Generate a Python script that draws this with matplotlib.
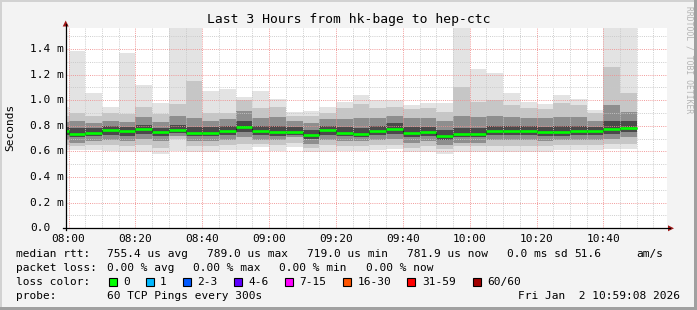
import numpy as np
import matplotlib.pyplot as plt
from matplotlib.ticker import MultipleLocator
from matplotlib.patches import Rectangle, Polygon
import matplotlib.transforms as mtransforms

# --- data (rtt in ms, one column per 5 minute round, minutes from 08:00) ---
bar_start = np.arange(-5, 170, 5)

rtt_med = [0.760, 0.737, 0.747, 0.768, 0.763, 0.776, 0.752, 0.770, 0.747, 0.747, 0.763, 0.789,
           0.760, 0.752, 0.752, 0.731, 0.766, 0.747, 0.737, 0.762, 0.778, 0.747, 0.752, 0.719,
           0.737, 0.737, 0.760, 0.760, 0.763, 0.752, 0.752, 0.760, 0.760, 0.776, 0.782]
rtt_max = [0.950, 1.388, 1.060, 0.946, 1.372, 1.120, 0.981, 1.820, 1.950, 1.075, 1.090, 1.023,
           1.075, 1.008, 0.911, 0.919, 0.945, 0.988, 1.041, 1.002, 1.002, 0.963, 0.981, 0.981,
           2.100, 1.245, 1.213, 1.060, 0.984, 0.971, 1.044, 1.010, 0.924, 1.880, 2.300]
rtt_p97 = [0.88, 0.90, 0.88, 0.90, 0.89, 0.95, 0.89, 0.97, 1.15, 0.90, 0.90, 1.00,
           0.94, 0.95, 0.88, 0.88, 0.90, 0.94, 0.97, 0.94, 0.95, 0.93, 0.94, 0.91,
           1.10, 0.99, 1.00, 0.96, 0.94, 0.93, 0.98, 0.96, 0.90, 1.26, 1.06]
rtt_p90 = [0.83, 0.84, 0.82, 0.84, 0.83, 0.87, 0.83, 0.88, 0.86, 0.84, 0.85, 0.92,
           0.86, 0.87, 0.84, 0.82, 0.85, 0.85, 0.86, 0.86, 0.88, 0.86, 0.86, 0.84,
           0.88, 0.87, 0.88, 0.87, 0.86, 0.86, 0.87, 0.87, 0.84, 0.96, 0.91]
rtt_p75 = [0.79, 0.78, 0.78, 0.80, 0.79, 0.81, 0.78, 0.81, 0.79, 0.79, 0.80, 0.84,
           0.80, 0.80, 0.79, 0.77, 0.80, 0.79, 0.78, 0.80, 0.82, 0.79, 0.79, 0.77,
           0.78, 0.78, 0.80, 0.80, 0.80, 0.79, 0.80, 0.80, 0.79, 0.84, 0.84]
rtt_p25 = [0.73, 0.71, 0.72, 0.73, 0.72, 0.74, 0.72, 0.745, 0.72, 0.72, 0.73, 0.75,
           0.73, 0.72, 0.73, 0.70, 0.73, 0.72, 0.71, 0.73, 0.74, 0.71, 0.72, 0.69,
           0.71, 0.71, 0.73, 0.73, 0.73, 0.72, 0.72, 0.73, 0.73, 0.74, 0.75]
rtt_p10 = [0.69, 0.67, 0.68, 0.69, 0.68, 0.70, 0.68, 0.72, 0.68, 0.68, 0.69, 0.71,
           0.69, 0.69, 0.71, 0.66, 0.69, 0.68, 0.68, 0.69, 0.70, 0.67, 0.68, 0.65,
           0.67, 0.67, 0.69, 0.69, 0.69, 0.68, 0.69, 0.69, 0.69, 0.70, 0.71]
rtt_p03 = [0.65, 0.64, 0.65, 0.65, 0.64, 0.65, 0.63, 0.70, 0.64, 0.64, 0.65, 0.66,
           0.66, 0.65, 0.67, 0.63, 0.65, 0.64, 0.64, 0.65, 0.65, 0.63, 0.64, 0.62,
           0.64, 0.64, 0.64, 0.64, 0.64, 0.64, 0.65, 0.65, 0.65, 0.66, 0.66]
rtt_min = [0.612, 0.615, 0.608, 0.605, 0.594, 0.596, 0.582, 0.605, 0.596, 0.596, 0.611, 0.614,
           0.633, 0.606, 0.633, 0.594, 0.594, 0.606, 0.606, 0.611, 0.617, 0.594, 0.594, 0.577,
           0.594, 0.594, 0.594, 0.594, 0.594, 0.594, 0.611, 0.611, 0.611, 0.617, 0.617]

x_ticks = [0, 20, 40, 60, 80, 100, 120, 140, 160]
x_labels = ["08:00", "08:20", "08:40", "09:00", "09:20", "09:40", "10:00", "10:20", "10:40"]
y_ticks = [0.0, 0.2, 0.4, 0.6, 0.8, 1.0, 1.2, 1.4]
y_labels = ["0.0", "0.2 m", "0.4 m", "0.6 m", "0.8 m", "1.0 m", "1.2 m", "1.4 m"]

title = "Last 3 Hours from hk-bage to hep-ctc"
stats_rtt = ["755.4 us avg", "789.0 us max", "719.0 us min", "781.9 us now", "0.0 ms sd", "51.6", "am/s"]
stats_loss = ["0.00 % avg", "0.00 % max", "0.00 % min", "0.00 % now"]
loss_names = ["0", "1", "2-3", "4-6", "7-15", "16-30", "31-59", "60/60"]
loss_colors = ["#00ff00", "#00b8ff", "#0059ff", "#5e00ff", "#ff00ff", "#ff5500", "#ff0000", "#a10000"]
probe_text = "60 TCP Pings every 300s"
stamp = "Fri Jan  2 10:59:08 2026"

MONO = "DejaVu Sans Mono"
W, H = 697, 310
BG = "#f3f3f3"

fig = plt.figure(figsize=(W / 100, H / 100), dpi=100, facecolor=BG)

# plot area in pixels
px_l, px_r, px_t, px_b = 65.7, 667.3, 27.7, 228.3
ax = fig.add_axes([px_l / W, 1 - px_b / H, (px_r - px_l) / W, (px_b - px_t) / H], zorder=1)
ax.set_facecolor("white")
ax.set_xlim(-52 / 60, 180 - 52 / 60)
ax.set_ylim(0, 1.567)
for s in ax.spines.values():
    s.set_visible(False)

# smoke, outer bands lightest
bands = [(rtt_min, rtt_max, "#e3e3e3"),
         (rtt_p03, rtt_p97, "#c6c6c6"),
         (rtt_p10, rtt_p90, "#8e8e8e"),
         (rtt_p25, rtt_p75, "#4a4a4a")]
for lo, hi, col in bands:
    lo = np.array(lo)
    hi = np.array(hi)
    ax.bar(bar_start, hi - lo, bottom=lo, width=5, align="edge", color=col, linewidth=0, zorder=2)

edges = np.append(bar_start, bar_start[-1] + 5)
ax.stairs(rtt_med, edges, baseline=None, color="#202020", lw=0.8, zorder=3)
ax.hlines(rtt_med, edges[:-1], edges[1:], colors=loss_colors[0], lw=1.9, zorder=7)

# grid on top, like rrdtool
ax.xaxis.set_major_locator(MultipleLocator(20))
ax.xaxis.set_minor_locator(MultipleLocator(5))
ax.yaxis.set_major_locator(MultipleLocator(0.2))
ax.yaxis.set_minor_locator(MultipleLocator(0.1))
ax.grid(which="minor", color="#c8c8c8", linestyle=(0, (1, 1.2)), lw=0.7, zorder=5, alpha=0.9)
ax.grid(which="major", color="#f09090", linestyle=(0, (1, 1.2)), lw=0.7, zorder=6, alpha=0.9)
ax.set_axisbelow(False)
ax.set_xticks(x_ticks)
ax.set_xticklabels(x_labels, fontfamily=MONO, fontsize=8)
ax.tick_params(axis="x", which="both", length=0, pad=4)
ax.tick_params(axis="y", which="both", length=0, labelleft=False)

# overlay in pixel coords for frame, arrows and legend text
ov = fig.add_axes([0, 0, 1, 1], zorder=2)
ov.set_xlim(0, W)
ov.set_ylim(H, 0)
ov.axis("off")
ov.patch.set_alpha(0)

ov.add_patch(Rectangle((0, 0), W, 2, color="#d2d2d2", lw=0))
ov.add_patch(Rectangle((0, 0), 2, H, color="#d2d2d2", lw=0))
ov.add_patch(Rectangle((0, H - 3), W, 3, color="#a0a0a0", lw=0))
ov.add_patch(Rectangle((W - 3, 0), 3, H, color="#a0a0a0", lw=0))

ov.plot([px_l, px_l], [px_b + 2, 24], color="black", lw=0.9)
ov.plot([px_l - 3, 670], [px_b, px_b], color="black", lw=0.9)
ov.add_patch(Polygon([(px_l - 3, 26.5), (px_l + 3, 26.5), (px_l, 20.5)], color="#a01818", lw=0))
ov.add_patch(Polygon([(668, px_b - 3), (668, px_b + 3), (674, px_b)], color="#a01818", lw=0))

# y tick labels, left aligned like rrdtool
yt = mtransforms.blended_transform_factory(ov.transData, ax.transData)
for v, lab in zip(y_ticks, y_labels):
    ax.text(30, v, lab, transform=yt, ha="left", va="center", fontfamily=MONO, fontsize=8)

ov.text(W / 2, 19, title, ha="center", va="center", fontfamily=MONO, fontsize=9.4)
ov.text(10.5, 127, "Seconds", rotation=90, ha="center", va="center", fontfamily=MONO, fontsize=8)
ov.text(688.5, 60, "RRDTOOL / TOBI OETIKER", rotation=270, ha="center", va="center",
        fontfamily=MONO, fontsize=5.8, color="#b4b4b4")

tkw = dict(ha="left", va="center", fontfamily=MONO, fontsize=8)
ov.text(16, 254.3, "median rtt:", **tkw)
for xp, s in zip([107, 207, 307, 407, 507, 574, 636], stats_rtt):
    ov.text(xp, 254.3, s, **tkw)
ov.text(16, 268.3, "packet loss:", **tkw)
for xp, s in zip([107, 193.3, 279.3, 365.7], stats_loss):
    ov.text(xp, 268.3, s, **tkw)
ov.text(16, 282.3, "loss color:", **tkw)
box_x = [108.7, 145.7, 182.7, 234.3, 285, 343.3, 407.3, 472.7]
for xp, name, col in zip(box_x, loss_names, loss_colors):
    ov.add_patch(Rectangle((xp, 278.3), 8, 8, facecolor=col, edgecolor="black", lw=0.8))
    ov.text(xp + 14.5, 282.3, name, **tkw)
ov.text(16, 295.7, "probe:", **tkw)
ov.text(107, 295.7, probe_text, **tkw)
ov.text(680, 295.7, stamp, ha="right", va="center", fontfamily=MONO, fontsize=8)

fig.savefig("out.png", dpi=100, facecolor=BG)
